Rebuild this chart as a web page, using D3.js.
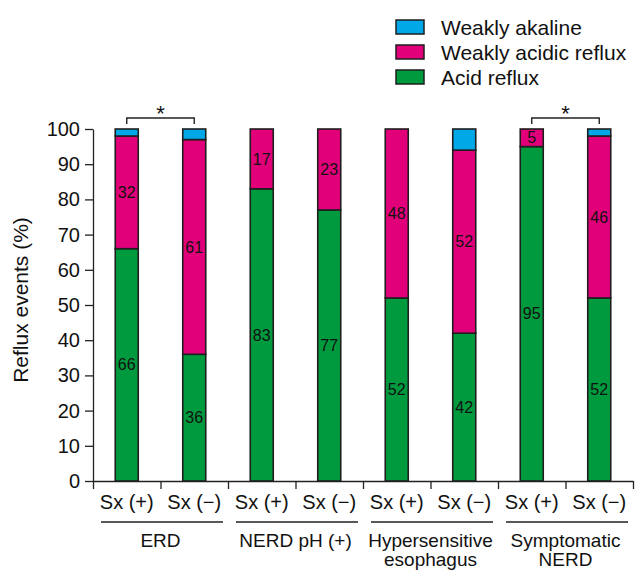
<!DOCTYPE html>
<html>
<head>
<meta charset="utf-8">
<script src="https://cdn.jsdelivr.net/npm/d3@7/dist/d3.min.js"></script>
<style>
  html, body { margin: 0; padding: 0; background: #fff; }
  svg { display: block; font-family: "Liberation Sans", Arial, Helvetica, sans-serif; }
</style>
</head>
<body>
<div id="chart"></div>
<script>
// Reflux event composition by group and symptom status
const groupLabels = [["ERD"], ["NERD pH (+)"], ["Hypersensitive", "esophagus"], ["Symptomatic", "NERD"]];
const subLabels = ["Sx (+)", "Sx (\u2212)", "Sx (+)", "Sx (\u2212)", "Sx (+)", "Sx (\u2212)", "Sx (+)", "Sx (\u2212)"];
const acidReflux = [66, 36, 83, 77, 52, 42, 95, 52];
const weaklyAcidic = [32, 61, 17, 23, 48, 52, 5, 46];
const weaklyAlkaline = [2, 3, 0, 0, 0, 6, 0, 2];
const yTicks = [0, 10, 20, 30, 40, 50, 60, 70, 80, 90, 100];
const significantPairs = [[0, 1], [6, 7]];
const seriesNames = ["Weakly akaline", "Weakly acidic reflux", "Acid reflux"];

const colors = {
  "Acid reflux": "#009a3e",
  "Weakly acidic reflux": "#e2007a",
  "Weakly akaline": "#00a8e8"
};

const W = 636, H = 570;
const margin = { top: 129, right: 3, bottom: 89, left: 93 };
const plotW = W - margin.left - margin.right;
const plotH = H - margin.top - margin.bottom;

const svg = d3.select("#chart").append("svg")
  .attr("width", W).attr("height", H);

const g = svg.append("g").attr("transform", `translate(${margin.left},${margin.top})`);

const n = acidReflux.length;
const barFrac = 23 / (plotW / n);
const x = d3.scaleBand().domain(d3.range(n)).range([0, plotW])
  .paddingInner(1 - barFrac).paddingOuter((1 - barFrac) / 2);
const slot = d3.scaleLinear().domain([0, n]).range([0, plotW]);
const y = d3.scaleLinear().domain([0, 100]).range([plotH, 0]);

// stacked rows: acid at bottom, weakly acidic, then weakly alkaline on top
const rows = d3.range(n).map(i => ({
  i,
  "Acid reflux": acidReflux[i],
  "Weakly acidic reflux": weaklyAcidic[i],
  "Weakly akaline": weaklyAlkaline[i]
}));
const stack = d3.stack().keys(["Acid reflux", "Weakly acidic reflux", "Weakly akaline"]);
const layers = stack(rows);

// axes
const yAxis = g.append("g")
  .call(d3.axisLeft(y).tickValues(yTicks).tickSize(8).tickSizeOuter(0).tickPadding(5));
yAxis.selectAll("text").attr("font-size", 20).attr("fill", "#111")
  .attr("font-family", "Liberation Sans, Arial, sans-serif");
yAxis.selectAll("line, path").attr("stroke", "#222").attr("stroke-width", 1.3);

const xAxis = g.append("g").attr("transform", `translate(0,${plotH})`)
  .call(d3.axisBottom(slot).tickValues(d3.range(n + 1)).tickFormat("").tickSize(8).tickSizeOuter(0));
xAxis.selectAll("line, path").attr("stroke", "#222").attr("stroke-width", 1.3);

// bars
layers.forEach(layer => {
  const key = layer.key;
  g.append("g").selectAll("rect")
    .data(layer.filter(d => d[1] - d[0] > 0))
    .join("rect")
    .attr("x", d => x(d.data.i))
    .attr("width", x.bandwidth())
    .attr("y", d => y(d[1]))
    .attr("height", d => y(d[0]) - y(d[1]))
    .attr("fill", colors[key])
    .attr("stroke", "#1e1e1e")
    .attr("stroke-width", 1.6);
});

// value labels for acid and weakly acidic segments
layers.filter(l => l.key !== "Weakly akaline").forEach(layer => {
  g.append("g").selectAll("text")
    .data(layer.filter(d => d[1] - d[0] > 0))
    .join("text")
    .attr("x", d => x(d.data.i) + x.bandwidth() / 2)
    .attr("y", d => y((d[0] + d[1]) / 2))
    .attr("dy", "0.35em")
    .attr("text-anchor", "middle")
    .attr("font-size", 16)
    .attr("fill", "#111")
    .text(d => d.data[layer.key]);
});

// significance brackets
significantPairs.forEach(([a, b]) => {
  const x1 = x(a) + x.bandwidth() / 2, x2 = x(b) + x.bandwidth() / 2;
  const top = y(100) - 11, leg = y(100) - 5;
  g.append("path")
    .attr("d", `M${x1},${leg}V${top}H${x2}V${leg}`)
    .attr("fill", "none").attr("stroke", "#222").attr("stroke-width", 1.4);
  g.append("text")
    .attr("x", (x1 + x2) / 2).attr("y", top + 3)
    .attr("text-anchor", "middle").attr("font-size", 22).attr("fill", "#111")
    .text("*");
});

// sub-category labels under each bar slot
g.append("g").selectAll("text")
  .data(subLabels)
  .join("text")
  .attr("x", (d, i) => (slot(i) + slot(i + 1)) / 2)
  .attr("y", plotH + 28)
  .attr("text-anchor", "middle")
  .attr("font-size", 20)
  .attr("fill", "#111")
  .text(d => d);

// group underlines and names
groupLabels.forEach((lines, gi) => {
  const x0 = slot(gi * 2), x1 = slot(gi * 2 + 2);
  g.append("line")
    .attr("x1", x0 + 8).attr("x2", x1 - 5)
    .attr("y1", plotH + 41).attr("y2", plotH + 41)
    .attr("stroke", "#222").attr("stroke-width", 1.3);
  lines.forEach((t, li) => {
    g.append("text")
      .attr("x", (x0 + x1) / 2)
      .attr("y", plotH + 66 + li * 19)
      .attr("text-anchor", "middle")
      .attr("font-size", 19)
      .attr("fill", "#111")
      .text(t);
  });
});

// y axis title
svg.append("text")
  .attr("transform", `translate(28,${margin.top + plotH / 2 - 5}) rotate(-90)`)
  .attr("text-anchor", "middle")
  .attr("font-size", 21)
  .attr("fill", "#111")
  .text("Reflux events (%)");

// legend
const legend = svg.append("g").attr("transform", "translate(396,20)");
seriesNames.forEach((name, k) => {
  const row = legend.append("g").attr("transform", `translate(0,${k * 25})`);
  row.append("rect")
    .attr("width", 28).attr("height", 14)
    .attr("fill", colors[name]).attr("stroke", "#1e1e1e").attr("stroke-width", 1.5);
  row.append("text")
    .attr("x", 45).attr("y", 7).attr("dy", "0.36em")
    .attr("font-size", 21).attr("fill", "#111")
    .text(name);
});
</script>
</body>
</html>
